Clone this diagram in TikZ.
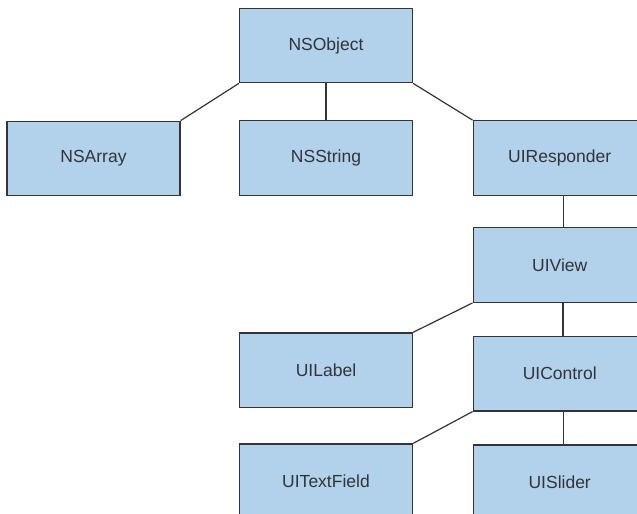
\documentclass[tikz,border=0pt]{standalone}
\usepackage{fontspec}
\setmainfont{Liberation Sans}
\definecolor{boxfill}{RGB}{178,209,234}
\definecolor{boxline}{RGB}{50,52,55}
\definecolor{txt}{RGB}{50,52,55}
\begin{document}
\begin{tikzpicture}[x=1bp,y=-1bp,
  cls/.style={draw=boxline, fill=boxfill, line width=1.3bp, minimum width=173bp, minimum height=74.5bp,
    inner sep=0pt, text=txt, font=\fontsize{17.5bp}{21bp}\selectfont},
  link/.style={draw=boxline, line width=1.2bp},
  thicklink/.style={draw=boxline, line width=2.2bp}]
\clip (0,0) rectangle (637,514);
\fill[white] (0,0) rectangle (637,514);
\node[cls] (obj) at (326,45.5) {NSObject};
\node[cls] (arr) at (93.5,158.5) {NSArray};
\node[cls] (str) at (326,158) {NSString};
\node[cls] (resp) at (559.7,158) {UIResponder};
\node[cls] (view) at (559.7,265) {UIView};
\node[cls] (lbl) at (326,370.2) {UILabel};
\node[cls] (ctrl) at (559.7,373.7) {UIControl};
\node[cls] (tf) at (326,481.3) {UITextField};
\node[cls] (sl) at (559.7,482.3) {UISlider};
\draw[link] (obj.south west) -- (arr.north east);
\draw[link] (obj.south) -- (str.north);
\draw[link] (obj.south east) -- (resp.north west);
\draw[link] ([xshift=3.6bp]resp.south) -- ([xshift=3.6bp]view.north);
\draw[link] (view.south west) -- (lbl.north east);
\draw[thicklink] ([xshift=3.6bp]view.south) -- ([xshift=3.6bp]ctrl.north);
\draw[link] (ctrl.south west) -- (tf.north east);
\draw[link] ([xshift=3.6bp]ctrl.south) -- ([xshift=3.6bp]sl.north);
\end{tikzpicture}
\end{document}
